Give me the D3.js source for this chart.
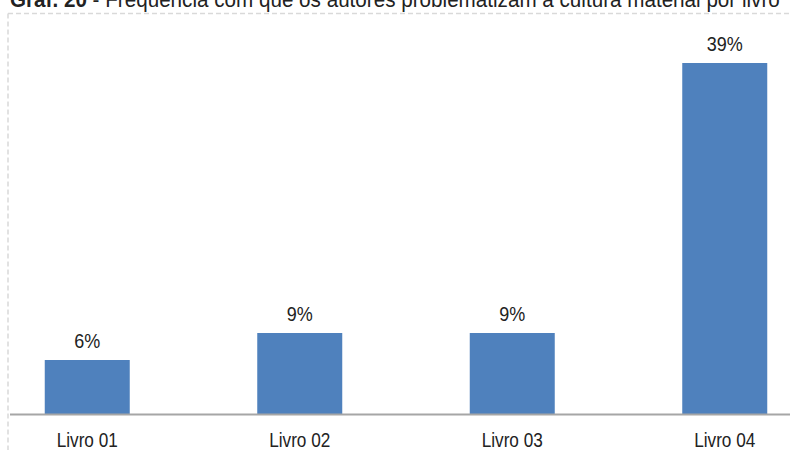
<!DOCTYPE html>
<html>
<head>
<meta charset="utf-8">
<script src="https://cdn.jsdelivr.net/npm/d3@7"></script>
<style>
  html, body { margin: 0; padding: 0; background: #fff; }
  svg { display: block; }
  text { font-family: "Liberation Sans", Arial, sans-serif; fill: #222; }
</style>
</head>
<body>
<svg id="chart" width="790" height="450"></svg>
<script>
// Frequency with which authors problematize material culture, per book
const categories = ["Livro 01", "Livro 02", "Livro 03", "Livro 04"];
const values = [6, 9, 9, 39];
const valueLabels = ["6%", "9%", "9%", "39%"];
const titleBold = "Graf. 20";
const titleRest = " - Frequência com que os autores problematizam a cultura material por livro";

const svg = d3.select("#chart");
const W = 790, H = 450;
const baseY = 414;
const squeeze = 0.86; // condensed look of the chart lettering

// Title, running along the top edge of the page, fitted to the frame width
const titleX = 10, titleWidth = 770;
const title = svg.append("text")
  .attr("x", 0).attr("y", 0)
  .style("font-size", "22px");
title.append("tspan").style("font-weight", "bold").text(titleBold);
title.append("tspan").text(titleRest);
const tw = title.node().getComputedTextLength();
title.attr("transform", `translate(${titleX},7) scale(${titleWidth / tw},1)`);

// Dashed frame of the chart area
svg.append("line")
  .attr("x1", 8).attr("x2", W).attr("y1", 13.5).attr("y2", 13.5)
  .attr("stroke", "#d9d9d9").attr("stroke-width", 1.5)
  .attr("stroke-dasharray", "5,3");
svg.append("line")
  .attr("x1", 8).attr("x2", 8).attr("y1", 13.5).attr("y2", H)
  .attr("stroke", "#d9d9d9").attr("stroke-width", 1.5)
  .attr("stroke-dasharray", "5,3");

const x = d3.scaleBand()
  .domain(categories)
  .range([-19, 831])
  .paddingInner(0.6)
  .paddingOuter(0.3);

const y = d3.scaleLinear()
  .domain([0, 39])
  .range([baseY, 63]);

// Bars
svg.append("g").selectAll("rect")
  .data(values)
  .join("rect")
  .attr("x", (d, i) => x(categories[i]))
  .attr("width", x.bandwidth())
  .attr("y", d => y(d))
  .attr("height", d => baseY - y(d))
  .attr("fill", "#4f81bd");

// Category axis
const axis = svg.append("g")
  .attr("transform", `translate(0,${baseY})`)
  .call(d3.axisBottom(x).tickSize(0).tickPadding(19));
axis.select(".domain").remove();
axis.selectAll("text")
  .style("font-size", "20px")
  .attr("fill", "#222")
  .attr("transform", `scale(${squeeze},1)`);
svg.append("line")
  .attr("x1", 10).attr("x2", W).attr("y1", baseY + 0.5).attr("y2", baseY + 0.5)
  .attr("stroke", "#a6a6a6").attr("stroke-width", 2);

// Value labels above each bar
svg.append("g").selectAll("text")
  .data(values)
  .join("text")
  .attr("transform", (d, i) =>
    `translate(${x(categories[i]) + x.bandwidth() / 2},${y(d) - 12}) scale(0.9,1)`)
  .attr("text-anchor", "middle")
  .style("font-size", "20px")
  .text((d, i) => valueLabels[i]);
</script>
</body>
</html>
